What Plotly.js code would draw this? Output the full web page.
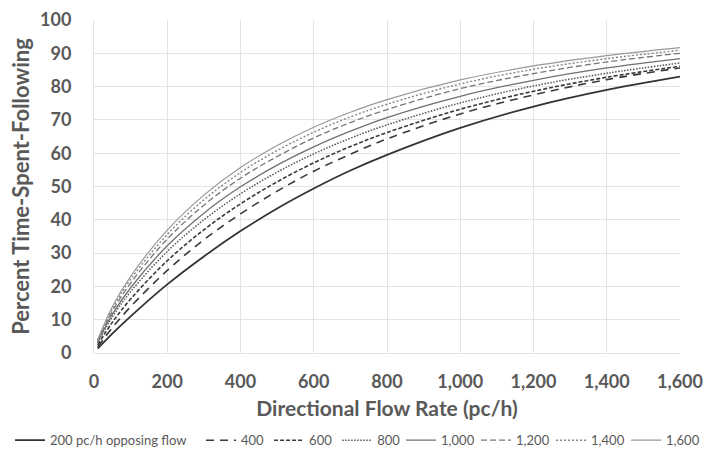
<!DOCTYPE html>
<html>
<head>
<meta charset="utf-8">
<script src="https://cdn.plot.ly/plotly-3.0.1.min.js"></script>
<style>html,body{margin:0;padding:0;background:#fff;}#chart{width:707px;height:462px;}</style>
</head>
<body>
<div id="chart"></div>
<script>
// Directional flow rate (pc/h)
const flow = [10, 50, 100, 200, 300, 400, 500, 600, 700, 800, 1000, 1200, 1400, 1600];

// Percent time-spent-following, one series per opposing flow
const opp200  = [1.3, 5.8, 11.0, 20.6, 29.0, 36.6, 43.4, 49.4, 54.8, 59.5, 67.6, 74.0, 79.0, 83.0];
const opp400  = [1.8, 7.6, 13.9, 24.8, 34.0, 41.8, 48.6, 54.6, 59.7, 64.3, 71.8, 77.5, 82.1, 85.6];
const opp600  = [2.4, 9.2, 16.2, 27.7, 37.0, 44.8, 51.4, 57.1, 62.0, 66.2, 73.2, 78.6, 82.8, 86.1];
const opp800  = [3.0, 10.8, 18.4, 30.5, 40.0, 47.8, 54.3, 59.8, 64.5, 68.5, 75.1, 80.2, 84.0, 87.1];
const opp1000 = [3.3, 11.6, 19.6, 32.2, 42.0, 49.9, 56.4, 61.9, 66.6, 70.7, 77.1, 81.9, 85.6, 88.4];
const opp1200 = [3.5, 12.5, 21.0, 34.2, 44.4, 52.5, 59.0, 64.6, 69.2, 73.1, 79.4, 83.9, 87.4, 90.0];
const opp1400 = [3.8, 13.2, 22.1, 35.6, 46.0, 54.2, 60.8, 66.3, 70.9, 74.7, 80.8, 85.2, 88.4, 90.9];
const opp1600 = [4.0, 13.9, 23.0, 36.9, 47.4, 55.7, 62.3, 67.8, 72.3, 76.1, 82.0, 86.2, 89.3, 91.7];

const seriesNames = ['200 pc/h opposing flow', '400', '600', '800', '1,000', '1,200', '1,400', '1,600'];
const seriesData = [opp200, opp400, opp600, opp800, opp1000, opp1200, opp1400, opp1600];

const styles = [
  {color: '#333333', width: 1.8, dash: 'solid'},
  {color: '#3a3a3a', width: 1.6, dash: '8px,6px'},
  {color: '#3a3a3a', width: 1.6, dash: '4px,2px'},
  {color: '#555555', width: 1.5, dash: '1.5px,1.5px'},
  {color: '#6f6f6f', width: 1.3, dash: 'solid'},
  {color: '#777777', width: 1.3, dash: '6px,3px'},
  {color: '#858585', width: 1.4, dash: '2px,2px'},
  {color: '#999999', width: 1.2, dash: 'solid'}
];
const legendIds = ['legend', 'legend', 'legend', 'legend', 'legend2', 'legend2', 'legend2', 'legend2'];
const legendWidths = [146, null, null, null, 30, 30, 30, null];

const traces = seriesData.map((vals, i) => {
  const t = {
    type: 'scatter',
    mode: 'lines',
    x: flow,
    y: vals,
    name: seriesNames[i],
    legend: legendIds[i],
    line: Object.assign({shape: 'spline', smoothing: 1}, styles[i])
  };
  if (legendWidths[i]) t.legendwidth = legendWidths[i];
  return t;
});

const fam = 'Lato, "Open Sans", sans-serif';
const tickFont = {family: fam, size: 18, color: '#595959', weight: 'bold'};
const legendFont = {family: fam, size: 13, color: '#595959'};

const layout = {
  width: 707,
  height: 462,
  margin: {l: 94, r: 27, t: 20, b: 109, autoexpand: false},
  paper_bgcolor: '#ffffff',
  plot_bgcolor: '#ffffff',
  showlegend: true,
  xaxis: {
    range: [0, 1600],
    tickvals: [0, 200, 400, 600, 800, 1000, 1200, 1400, 1600],
    tickformat: ',d',
    tickfont: tickFont,
    ticklabelstandoff: 12,
    showgrid: true,
    gridcolor: '#e3e3e3',
    gridwidth: 1,
    zeroline: false,
    showline: true,
    linecolor: '#e3e3e3',
    automargin: false,
    title: {text: 'Directional Flow Rate (pc/h)', font: {family: fam, size: 21, color: '#595959', weight: 'bold'}, standoff: 10}
  },
  yaxis: {
    range: [0, 100],
    dtick: 10,
    tickfont: tickFont,
    ticklabelstandoff: 18,
    showgrid: true,
    gridcolor: '#e3e3e3',
    gridwidth: 1,
    zeroline: false,
    showline: true,
    linecolor: '#e3e3e3',
    automargin: false,
    title: {text: 'Percent Time-Spent-Following', font: {family: fam, size: 22, color: '#595959', weight: 'bold'}, standoff: 4}
  },
  legend: {
    orientation: 'h',
    x: -0.1433,
    xanchor: 'left',
    y: -0.262,
    yanchor: 'middle',
    itemwidth: 30,
    font: legendFont,
    bgcolor: 'rgba(0,0,0,0)'
  },
  legend2: {
    orientation: 'h',
    x: 0.524,
    xanchor: 'left',
    y: -0.262,
    yanchor: 'middle',
    itemwidth: 30,
    font: legendFont,
    bgcolor: 'rgba(0,0,0,0)'
  }
};

Plotly.newPlot('chart', traces, layout, {displayModeBar: false, staticPlot: true});
</script>
</body>
</html>
